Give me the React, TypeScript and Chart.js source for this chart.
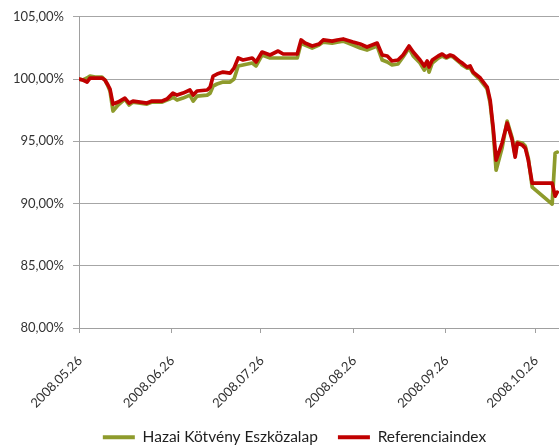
import React, { useEffect, useRef } from 'react';
import { Chart, registerables } from 'chart.js';

Chart.register(...registerables);

// x values: days elapsed since 2008.05.26
const dayOffsets = [0, 1.3, 2.7, 3.7, 5.4, 7.7, 8.7, 9.7, 10.4, 11.4, 13.1, 15.4, 16.8, 18.1, 20.5, 22.8, 24.5, 27.9, 29.5, 30.5, 31.5, 32.9, 34.9, 37.2, 38.3, 39.6, 43.0, 44.0, 45.0, 46.3, 48.3, 50.7, 52.0, 53.4, 55.0, 58.1, 59.4, 61.4, 64.1, 66.8, 68.5, 73.2, 74.5, 75.8, 78.2, 80.5, 81.9, 84.9, 86.6, 88.6, 91.9, 94.3, 96.6, 100.0, 101.7, 103.4, 105.0, 107.0, 108.7, 110.7, 112.1, 114.4, 115.8, 116.8, 117.4, 118.5, 120.5, 121.8, 123.2, 124.5, 125.5, 127.9, 128.5, 130.2, 131.2, 132.2, 134.6, 136.9, 137.9, 138.9, 139.9, 141.9, 143.6, 145.3, 146.3, 147.0, 148.7, 149.7, 150.7, 152.0, 158.7, 159.7, 160.4];

const fundValues = [100.00, 99.92, 100.08, 100.24, 100.16, 100.16, 99.92, 99.44, 99.04, 97.43, 97.91, 98.39, 97.91, 98.15, 98.07, 97.99, 98.15, 98.15, 98.31, 98.39, 98.55, 98.31, 98.47, 98.71, 98.23, 98.63, 98.71, 98.87, 99.44, 99.60, 99.76, 99.76, 100.00, 101.05, 101.13, 101.29, 101.05, 101.93, 101.69, 101.69, 101.69, 101.69, 102.89, 102.73, 102.49, 102.73, 102.97, 102.89, 102.97, 103.05, 102.73, 102.49, 102.33, 102.65, 101.53, 101.37, 101.13, 101.21, 101.77, 102.49, 101.85, 101.29, 100.72, 101.21, 100.56, 101.29, 101.69, 101.85, 101.69, 101.85, 101.77, 101.29, 101.13, 100.88, 100.88, 100.48, 99.92, 99.20, 98.07, 95.90, 92.68, 94.45, 96.62, 95.26, 93.89, 94.94, 94.86, 94.61, 93.65, 91.32, 89.95, 94.05, 94.13];

const indexValues = [100.00, 99.92, 99.76, 100.08, 100.08, 100.08, 99.92, 99.52, 99.20, 97.99, 98.15, 98.47, 98.07, 98.23, 98.15, 98.07, 98.23, 98.23, 98.39, 98.63, 98.87, 98.71, 98.87, 99.12, 98.71, 99.04, 99.12, 99.36, 100.24, 100.40, 100.56, 100.48, 100.88, 101.69, 101.53, 101.69, 101.37, 102.17, 101.93, 102.25, 102.01, 102.01, 103.14, 102.89, 102.65, 102.81, 103.14, 103.05, 103.14, 103.22, 102.97, 102.81, 102.57, 102.89, 101.93, 101.85, 101.45, 101.53, 101.93, 102.65, 102.17, 101.53, 101.05, 101.45, 100.96, 101.53, 101.85, 102.01, 101.77, 101.93, 101.85, 101.37, 101.29, 100.96, 101.05, 100.56, 100.08, 99.36, 98.31, 96.14, 93.49, 94.86, 96.46, 95.10, 93.73, 94.86, 94.69, 94.45, 93.49, 91.64, 91.64, 90.59, 90.92];

const tickDays = [0, 31, 61, 92, 123, 153];
const tickLabels = ['2008.05.26', '2008.06.26', '2008.07.26', '2008.08.26', '2008.09.26', '2008.10.26'];
const seriesNames = ['Hazai Kötvény Eszközalap', 'Referenciaindex'];

const GREEN = '#8E9B2C';
const RED = '#C00000';
const FONT = 'Lato, "Open Sans", sans-serif';

const layoutTweak = {
  id: 'layoutTweak',
  afterLayout(chart: any) {
    const lg = chart.legend;
    if (lg) {
      lg.top += 10;
      lg.bottom += 10;
      lg.left += 15;
      lg.right += 15;
    }
    const xs = chart.scales.x;
    if (xs) {
      xs.bottom = chart.height;
    }
  },
};

export default function App() {
  const ref = useRef<HTMLCanvasElement | null>(null);

  useEffect(() => {
    document.body.style.margin = '0';
    const canvas = ref.current;
    if (!canvas) return;
    const chart = new Chart(canvas, {
      type: 'line',
      data: {
        datasets: [
          {
            label: seriesNames[0],
            data: dayOffsets.map((d, i) => ({ x: d, y: fundValues[i] })),
            borderColor: GREEN,
            backgroundColor: GREEN,
            borderWidth: 3.7,
            pointRadius: 0,
            tension: 0,
            borderJoinStyle: 'round',
            borderCapStyle: 'round',
            order: 1,
          },
          {
            label: seriesNames[1],
            data: dayOffsets.map((d, i) => ({ x: d, y: indexValues[i] })),
            borderColor: RED,
            backgroundColor: RED,
            borderWidth: 3.7,
            pointRadius: 0,
            tension: 0,
            borderJoinStyle: 'round',
            borderCapStyle: 'round',
            order: 0,
          },
        ],
      },
      options: {
        animation: false,
        responsive: false,
        devicePixelRatio: 1,
        layout: { padding: { left: 0, right: 0, top: 11, bottom: 0 } },
        plugins: {
          tooltip: { enabled: false },
          legend: {
            position: 'bottom',
            labels: {
              boxWidth: 32,
              boxHeight: 4,
              padding: 20,
              color: '#1e1e1e',
              font: { family: FONT, size: 15.5 },
              sort: (a: any, b: any) => a.datasetIndex - b.datasetIndex,
              generateLabels: (c: any) => {
                const items = (Chart.defaults.plugins.legend.labels as any).generateLabels(c);
                return items.map((it: any) => ({ ...it, lineWidth: 0 }));
              },
            },
          },
        },
        scales: {
          x: {
            type: 'linear',
            min: 0,
            max: 161,
            afterBuildTicks: (s: any) => {
              s.ticks = tickDays.map((v) => ({ value: v }));
            },
            afterFit: (s: any) => {
              s.height = 71.5;
              s.paddingLeft = 0;
              s.paddingRight = 0;
            },
            ticks: {
              autoSkip: false,
              minRotation: 45,
              maxRotation: 45,
              padding: 20,
              labelOffset: 1,
              color: '#333',
              font: { family: FONT, size: 13 },
              callback: (v: any) => {
                const i = tickDays.indexOf(Number(v));
                return i >= 0 ? tickLabels[i] : '';
              },
            },
            grid: { drawOnChartArea: false, drawTicks: true, tickLength: 5, color: '#a0a0a0' },
            border: { color: '#a0a0a0' },
          },
          y: {
            min: 80,
            max: 105,
            afterFit: (s: any) => {
              s.width = 79;
            },
            ticks: {
              stepSize: 5,
              padding: 9,
              color: '#333',
              font: { family: FONT, size: 13 },
              callback: (v: any) => Number(v).toFixed(2).replace('.', ',') + '%',
            },
            grid: { color: '#a6a6a6', tickLength: 6 },
            border: { color: '#a0a0a0' },
          },
        },
      },
      plugins: [layoutTweak],
    } as any);
    return () => chart.destroy();
  }, []);

  return (
    <div style={{ width: 559, height: 445, background: '#fff' }}>
      <canvas ref={ref} width={559} height={445} style={{ display: 'block' }} />
    </div>
  );
}
